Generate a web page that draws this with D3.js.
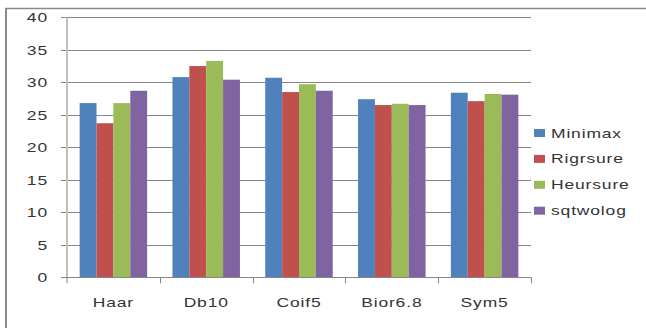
<!DOCTYPE html>
<html>
<head>
<meta charset="utf-8">
<script src="https://cdn.jsdelivr.net/npm/d3@7/dist/d3.min.js"></script>
<style>
  html, body { margin: 0; padding: 0; background: #fff; }
  svg { display: block; }
  text { font-family: "Liberation Sans", Arial, sans-serif; fill: #333; }
</style>
</head>
<body>
<svg id="chart" width="646" height="328"></svg>
<script>
// Wavelet families on the x axis
const categories = ["Haar", "Db10", "Coif5", "Bior6.8", "Sym5"];
// Threshold selection rules (legend order)
const seriesNames = ["Minimax", "Rigrsure", "Heursure", "sqtwolog"];
const seriesColors = ["#4F81BD", "#C0504D", "#9BBB59", "#8064A2"];
// Values per rule, one per wavelet
const minimax  = [26.8, 30.8, 30.7, 27.4, 28.4];
const rigrsure = [23.7, 32.5, 28.5, 26.5, 27.1];
const heursure = [26.8, 33.3, 29.7, 26.7, 28.2];
const sqtwolog = [28.7, 30.4, 28.7, 26.5, 28.1];
const seriesValues = [minimax, rigrsure, heursure, sqtwolog];
const yTicks = [0, 5, 10, 15, 20, 25, 30, 35, 40];

const svg = d3.select("#chart");
const plot = { left: 67, right: 531, top: 17.3, bottom: 277.3 };
const stretch = 1.4;

// Outer frame (left and top edges)
svg.append("line").attr("x1", 6).attr("x2", 6).attr("y1", 8).attr("y2", 328)
  .attr("stroke", "#8a8a8a").attr("stroke-width", 2);
svg.append("line").attr("x1", 5).attr("x2", 646).attr("y1", 8.5).attr("y2", 8.5)
  .attr("stroke", "#8a8a8a").attr("stroke-width", 1.5);

const y = d3.scaleLinear().domain([0, 40]).range([plot.bottom, plot.top]);
const x0 = d3.scaleBand().domain(categories).range([plot.left, plot.right]).padding(0);
const x1 = d3.scaleBand().domain(seriesNames).range([0, x0.bandwidth()])
  .paddingInner(0).paddingOuter(0.75);

function stretchedText(sel, x, yy, str, anchor) {
  return sel.append("text")
    .attr("transform", `translate(${x},${yy}) scale(${stretch},1)`)
    .attr("text-anchor", anchor)
    .attr("dominant-baseline", "central")
    .style("font-size", "12.5px")
    .style("letter-spacing", "0.6px")
    .text(str);
}

// Gridlines with tick stubs to the left of the axis
const grid = svg.append("g");
yTicks.forEach(t => {
  if (t === 0) return;
  grid.append("line").attr("x1", plot.left - 6).attr("x2", plot.right)
    .attr("y1", Math.round(y(t)) + 0.5).attr("y2", Math.round(y(t)) + 0.5)
    .attr("stroke", "#868686").attr("stroke-width", 1);
});

// Bars
const groups = svg.append("g").selectAll("g").data(categories).join("g")
  .attr("transform", d => `translate(${x0(d)},0)`);
groups.selectAll("rect")
  .data((d, i) => seriesNames.map((s, k) => ({ s, k, v: seriesValues[k][i] })))
  .join("rect")
  .attr("x", d => x1(d.s))
  .attr("width", x1.bandwidth())
  .attr("y", d => y(d.v))
  .attr("height", d => y(0) - y(d.v))
  .attr("fill", d => seriesColors[d.k]);

// Axes
svg.append("line").attr("x1", plot.left).attr("x2", plot.left)
  .attr("y1", plot.top).attr("y2", plot.bottom + 6)
  .attr("stroke", "#c0c0c0").attr("stroke-width", 2);
svg.append("line").attr("x1", plot.left - 6).attr("x2", plot.right)
  .attr("y1", Math.round(y(0)) + 0.5).attr("y2", Math.round(y(0)) + 0.5)
  .attr("stroke", "#868686").attr("stroke-width", 1);
const xTickPos = categories.map(c => x0(c)).concat([plot.right]);
xTickPos.slice(1).forEach(px => {
  svg.append("line").attr("x1", Math.round(px) + 0.5).attr("x2", Math.round(px) + 0.5)
    .attr("y1", y(0)).attr("y2", y(0) + 6)
    .attr("stroke", "#868686").attr("stroke-width", 1);
});

// Y tick labels
yTicks.forEach(t => stretchedText(svg, 48, y(t) + 0.5, String(t), "end"));

// Category labels
categories.forEach(c => stretchedText(svg, x0(c) + x0.bandwidth() / 2, 302, c, "middle"));

// Legend
const legend = svg.append("g");
seriesNames.forEach((s, k) => {
  const cy = 133 + k * 25.9;
  legend.append("rect").attr("x", 534).attr("y", cy - 4).attr("width", 11).attr("height", 8)
    .attr("fill", seriesColors[k]);
  stretchedText(legend, 551, cy, s, "start");
});
</script>
</body>
</html>
